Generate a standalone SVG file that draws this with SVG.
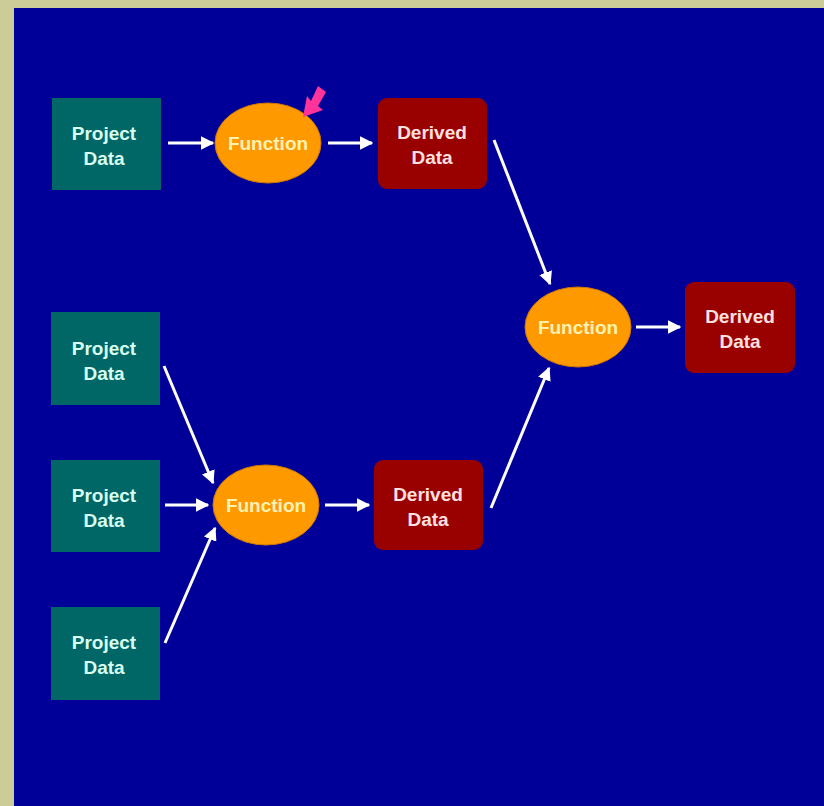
<svg xmlns="http://www.w3.org/2000/svg" width="824" height="806" viewBox="0 0 824 806">
<style>
.pd{fill:#006666}
.fn{fill:#ff9900;stroke:#cc7700;stroke-width:1}
.dd{fill:#990000}
text{font-family:"Liberation Sans",Arial,sans-serif;font-weight:bold;font-size:19px;text-anchor:middle}
.tp{fill:#d8fff0}
.tf{fill:#fff2b0}
.td{fill:#ffe0e0}
.c line{stroke:#ffffff;stroke-width:3;marker-end:url(#ah)}
</style>
<defs>
<marker id="ah" viewBox="0 0 10 10" refX="9" refY="5" markerWidth="4.5" markerHeight="4.5" orient="auto" markerUnits="strokeWidth">
<path d="M0,0 L10,5 L0,10 Z" fill="#ffffff"/>
</marker>
</defs>
<rect x="0" y="0" width="824" height="806" fill="#cccc99"/>
<rect x="14" y="8" width="810" height="798" fill="#000099"/>
<g class="c">
<line x1="168" y1="143" x2="213" y2="143"/>
<line x1="328" y1="143" x2="372" y2="143"/>
<line x1="494" y1="140" x2="550" y2="284"/>
<line x1="636" y1="327" x2="680" y2="327"/>
<line x1="164" y1="366" x2="213" y2="483"/>
<line x1="165" y1="505" x2="208" y2="505"/>
<line x1="165" y1="643" x2="215" y2="528"/>
<line x1="325" y1="505" x2="369" y2="505"/>
<line x1="491" y1="508" x2="549" y2="368"/>
</g>
<g id="pd1"><rect class="pd" x="52" y="98" width="109" height="92"/><text class="tp" x="104" y="140">Project</text><text class="tp" x="104" y="165">Data</text></g>
<g id="fn1"><ellipse class="fn" cx="268" cy="143" rx="53" ry="40"/><text class="tf" x="268" y="150">Function</text></g>
<g id="pink"><polygon points="303,117 307,96 311,101 318,86 326,92 318,106 323,110" fill="#ff3399"/></g>
<g id="dd1"><rect class="dd" x="378" y="98" width="109" height="91" rx="9"/><text class="td" x="432" y="139">Derived</text><text class="td" x="432" y="164">Data</text></g>
<g id="pd2"><rect class="pd" x="51" y="312" width="109" height="93"/><text class="tp" x="104" y="355">Project</text><text class="tp" x="104" y="380">Data</text></g>
<g id="pd3"><rect class="pd" x="51" y="460" width="109" height="92"/><text class="tp" x="104" y="502">Project</text><text class="tp" x="104" y="527">Data</text></g>
<g id="pd4"><rect class="pd" x="51" y="607" width="109" height="93"/><text class="tp" x="104" y="649">Project</text><text class="tp" x="104" y="674">Data</text></g>
<g id="fn2"><ellipse class="fn" cx="266" cy="505" rx="53" ry="40"/><text class="tf" x="266" y="512">Function</text></g>
<g id="dd2"><rect class="dd" x="374" y="460" width="109" height="90" rx="9"/><text class="td" x="428" y="501">Derived</text><text class="td" x="428" y="526">Data</text></g>
<g id="fn3"><ellipse class="fn" cx="578" cy="327" rx="53" ry="40"/><text class="tf" x="578" y="334">Function</text></g>
<g id="dd3"><rect class="dd" x="685" y="282" width="110" height="91" rx="9"/><text class="td" x="740" y="323">Derived</text><text class="td" x="740" y="348">Data</text></g>
</svg>
